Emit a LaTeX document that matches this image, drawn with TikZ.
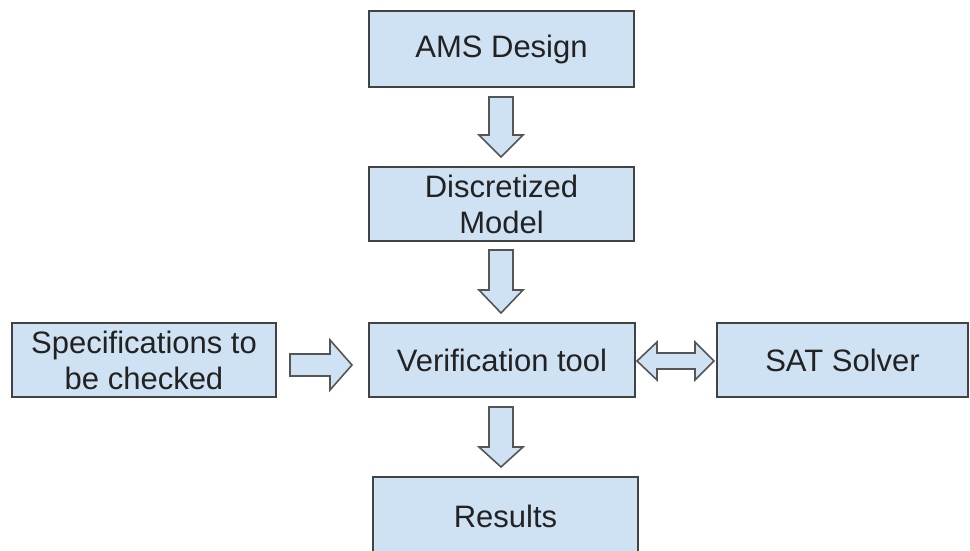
\documentclass[tikz,border=0pt]{standalone}
\usepackage{fontspec}
\setmainfont{Liberation Sans}
\definecolor{boxfill}{HTML}{CFE2F3}
\definecolor{boxline}{HTML}{434343}
\definecolor{arrline}{HTML}{555555}
\definecolor{txt}{HTML}{222222}
\tikzset{
  box/.style={draw=boxline, line width=2pt, fill=boxfill, inner sep=0pt,
    align=center, text=txt, font=\fontsize{31}{36}\selectfont},
  blockarrow/.style={draw=arrline, line width=1.6pt, fill=boxfill, line join=miter}
}
\begin{document}
\begin{tikzpicture}[x=1pt,y=-1pt]
\useasboundingbox (0,0) rectangle (970,550);
\clip (0,0) rectangle (970,550);
% boxes
\node[box, minimum width=265pt, minimum height=76pt] (ams) at (501.5,49) {AMS Design};
\node[box, minimum width=265pt, minimum height=74pt] (disc) at (501.5,204) {Discretized\\Model};
\node[box, minimum width=266pt, minimum height=74pt] (verif) at (502,360) {Verification tool};
\node[box, minimum width=264pt, minimum height=74pt] (spec) at (144,360) {Specifications to\\be checked};
\node[box, minimum width=251pt, minimum height=74pt] (sat) at (842.5,360) {SAT Solver};
\node[box, minimum width=265pt, minimum height=78pt, anchor=north] (res) at (505.5,476) {Results};
% vertical block arrows
\foreach \t/\h/\e in {97/135/157, 250/290/313, 407/447/467}{
  \draw[blockarrow] (489,\t) -- (513,\t) -- (513,\h) -- (523,\h) -- (501,\e)
    -- (479,\h) -- (489,\h) -- cycle;
}
% right arrow
\draw[blockarrow] (290,354) -- (330,354) -- (330,340) -- (352,365) -- (330,390)
  -- (330,376) -- (290,376) -- cycle;
% double arrow
\draw[blockarrow] (637,361) -- (657,342) -- (657,353) -- (695,353) -- (695,342)
  -- (714,361) -- (695,380) -- (695,369) -- (657,369) -- (657,380) -- cycle;
\end{tikzpicture}
\end{document}
